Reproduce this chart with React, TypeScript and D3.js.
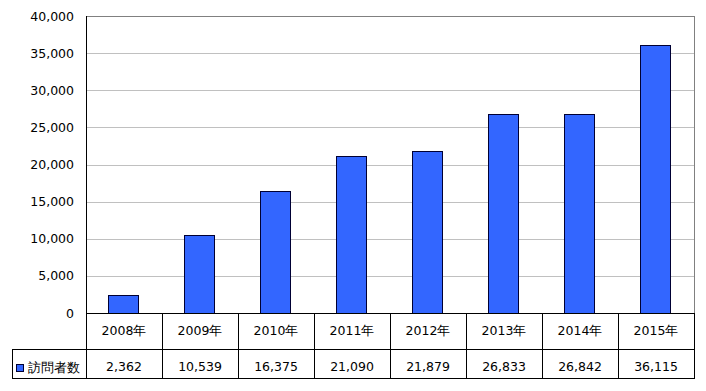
import React from "react";
import * as d3 from "d3";

const categories = ["2008年", "2009年", "2010年", "2011年", "2012年", "2013年", "2014年", "2015年"];
const values = [2362, 10539, 16375, 21090, 21879, 26833, 26842, 36115];
const seriesName = "訪問者数";
const yTicks = [0, 5000, 10000, 15000, 20000, 25000, 30000, 35000, 40000];

const W = 706, H = 391;
const left = 86, right = 694, top = 16, bottom = 313;
const row1 = 349, row2 = 378, legendLeft = 12;
const FONT = "Verdana, 'DejaVu Sans', sans-serif";

export default function App() {
  const x = d3.scaleBand<string>().domain(categories).range([left, right]).paddingInner(0.61).paddingOuter(0.305);
  const xc = d3.scaleBand<string>().domain(categories).range([left, right]);
  const y = d3.scaleLinear().domain([0, 40000]).range([bottom, top]);
  const fmt = d3.format(",");
  return (
    <svg width={W} height={H} style={{ position: "absolute", left: 0, top: 0, fontFamily: FONT }}>
      <rect x={0} y={0} width={W} height={H} fill="#fff" />
      {yTicks.slice(1, -1).map((t) => (
        <line key={t} x1={left} x2={right} y1={Math.round(y(t)) + 0.5} y2={Math.round(y(t)) + 0.5} stroke="#c0c0c0" />
      ))}
      <line x1={left} x2={right} y1={top + 0.5} y2={top + 0.5} stroke="#808080" />
      <line x1={right + 0.5} x2={right + 0.5} y1={top} y2={bottom} stroke="#808080" />
      {values.map((v, i) => (
        <rect key={i} x={Math.round(x(categories[i])!) - 0.5} y={Math.round(y(v)) + 0.5}
          width={Math.round(x.bandwidth())} height={Math.round(y(0) - y(v))}
          fill="#3366ff" stroke="#000033" strokeWidth={1} />
      ))}
      {yTicks.map((t) => (
        <text key={t} x={74} y={y(t)} textAnchor="end" dominantBaseline="central" fontSize={12.5} fill="#000">{fmt(t)}</text>
      ))}
      <line x1={left + 0.5} x2={left + 0.5} y1={top} y2={row2} stroke="#000" />
      <line x1={left} x2={right + 1} y1={bottom + 0.5} y2={bottom + 0.5} stroke="#000" />
      <line x1={legendLeft} x2={right + 1} y1={row1 + 0.5} y2={row1 + 0.5} stroke="#000" />
      <line x1={legendLeft} x2={right + 1} y1={row2 + 0.5} y2={row2 + 0.5} stroke="#000" />
      <line x1={legendLeft + 0.5} x2={legendLeft + 0.5} y1={row1} y2={row2 + 1} stroke="#000" />
      {categories.map((c, i) => (
        <line key={"v" + i} x1={Math.round(xc(c)! + xc.bandwidth()) + 0.5} x2={Math.round(xc(c)! + xc.bandwidth()) + 0.5} y1={bottom} y2={row2 + 1} stroke="#000" />
      ))}
      {categories.map((c) => (
        <text key={"c" + c} x={xc(c)! + xc.bandwidth() / 2} y={330} textAnchor="middle" dominantBaseline="central" fontSize={12.5} fill="#000">{c}</text>
      ))}
      {values.map((v, i) => (
        <text key={"d" + i} x={xc(categories[i])! + xc.bandwidth() / 2} y={366.5} textAnchor="middle" dominantBaseline="central" fontSize={12.5} fill="#000">{fmt(v)}</text>
      ))}
      <rect x={16.5} y={364.5} width={7} height={7} fill="#3366ff" stroke="#000033" />
      <text x={28} y={367} dominantBaseline="central" fontSize={13} fill="#000">{seriesName}</text>
    </svg>
  );
}
